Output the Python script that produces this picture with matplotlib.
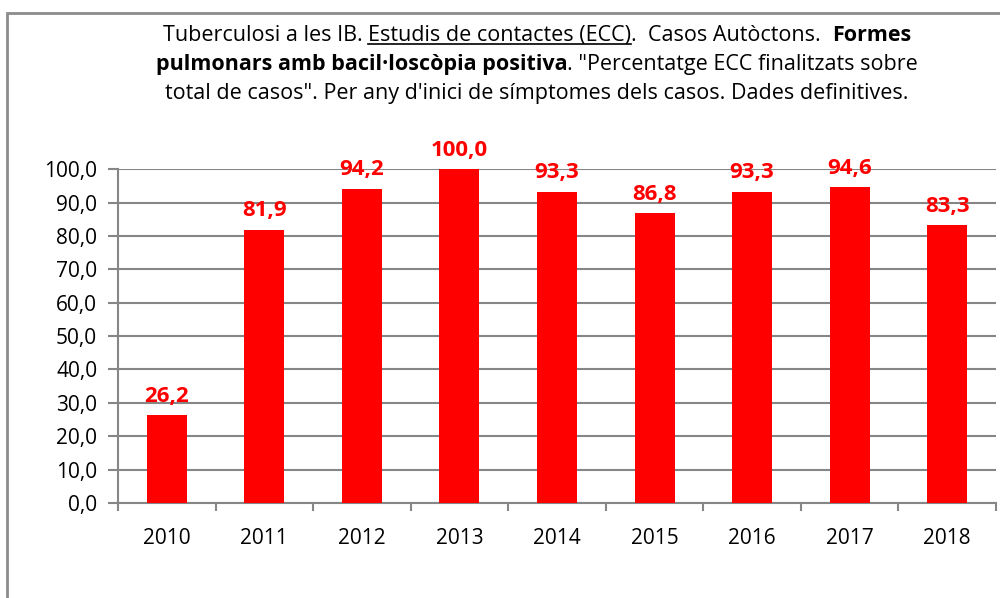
import matplotlib
matplotlib.use('Agg')
import matplotlib.pyplot as plt
import numpy as np
from matplotlib.patches import Rectangle
from matplotlib.lines import Line2D

# Data
years = ['2010', '2011', '2012', '2013', '2014', '2015', '2016', '2017', '2018']
pct_finalitzats = [26.2, 81.9, 94.2, 100.0, 93.3, 86.8, 93.3, 94.6, 83.3]

title_lines = [
    [("Tuberculosi a les IB. ", 'normal', False),
     ("Estudis de contactes (ECC)", 'normal', True),
     (".  Casos Autòctons.  ", 'normal', False),
     ("Formes", 'bold', False)],
    [("pulmonars amb bacil·loscòpia positiva", 'bold', False),
     (". \"Percentatge ECC finalitzats sobre", 'normal', False)],
    [("total de casos\". Per any d'inici de símptomes dels casos. Dades definitives.", 'normal', False)],
]

title_font = ['Open Sans', 'DejaVu Sans']
axis_font = ['Open Sans', 'DejaVu Sans']
grid_col = '#868686'

fig = plt.figure(figsize=(10, 5.98), dpi=100)
ax = fig.add_axes([0.118, 0.159, 0.878, 0.558])

x = np.arange(len(years))
bars = ax.bar(x, pct_finalitzats, width=0.41, color='#ff0000', zorder=3)

for xi, v in zip(x, pct_finalitzats):
    ax.annotate(f'{v:.1f}'.replace('.', ','), (xi, v), xytext=(0, 6),
                textcoords='offset points', ha='center', va='bottom',
                color='#ff0000', fontweight='bold', fontsize=16, family=axis_font)

ax.set_xlim(-0.5, len(years) - 0.5)
ax.set_ylim(0, 100)
ax.set_yticks(np.arange(0, 101, 10))
ax.set_yticklabels([f'{t:.1f}'.replace('.', ',') for t in np.arange(0, 101, 10)],
                   family=axis_font, fontsize=15)
ax.set_xticks(x)
ax.set_xticklabels(years, family=axis_font, fontsize=15)
ax.set_xticks(np.arange(-0.5, len(years), 1), minor=True)
ax.tick_params(axis='x', which='major', length=0, pad=18)
ax.tick_params(axis='x', which='minor', length=6, width=1.5, color=grid_col)
ax.tick_params(axis='y', length=7, width=1.5, color=grid_col, pad=8)
ax.grid(axis='y', color=grid_col, linewidth=1.5, zorder=0)
ax.set_axisbelow(True)
for s in ['top', 'right']:
    ax.spines[s].set_visible(False)
for s in ['left', 'bottom']:
    ax.spines[s].set_color(grid_col)
    ax.spines[s].set_linewidth(1.5)

# outer chart frame (clipped at right/bottom like the reference)
fig.patches.append(Rectangle((0.007, -0.1), 1.1, 1.078,
                             transform=fig.transFigure, fill=False,
                             edgecolor='#8c8c8c', linewidth=2))

# mixed-format title, pieces laid out one after another
fig.canvas.draw()
renderer = fig.canvas.get_renderer()
W, H = fig.bbox.width, fig.bbox.height
baselines = [41, 70, 99]
cx = 537
for pieces, yp in zip(title_lines, baselines):
    texts = []
    for s, w, u in pieces:
        t = fig.text(0, 1 - yp / H, s, fontsize=15.5, fontweight=w, family=title_font,
                     ha='left', va='baseline')
        texts.append(t)
    widths = [t.get_window_extent(renderer).width for t in texts]
    xs = cx - sum(widths) / 2
    for t, wd, (s, w, u) in zip(texts, widths, pieces):
        t.set_x(xs / W)
        if u:
            uy = 1 - (yp + 3) / H
            fig.add_artist(Line2D([xs / W, (xs + wd) / W], [uy, uy],
                                  transform=fig.transFigure, color='black', linewidth=1.2))
        xs += wd

fig.savefig('out.png', dpi=100)
